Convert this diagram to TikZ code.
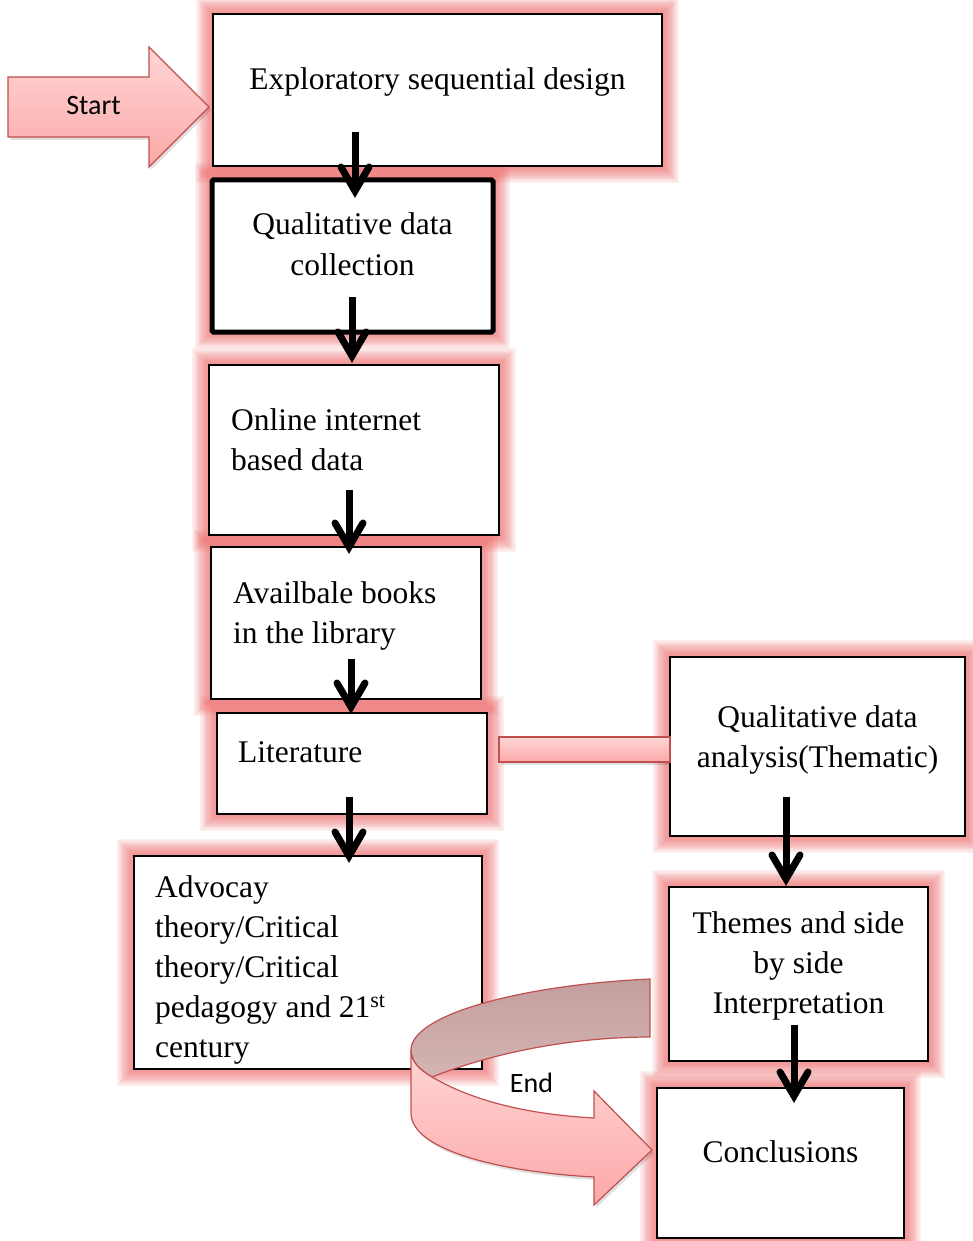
\documentclass[tikz,border=0pt]{standalone}
\usepackage{fontspec}
\setmainfont{Liberation Serif}
\newfontfamily\calibri{Carlito}
\usetikzlibrary{arrows.meta,calc}
\pgfdeclarelayer{glow}
\pgfsetlayers{glow,main}
\definecolor{glowc}{RGB}{236,105,105}
\definecolor{pinkT}{RGB}{255,214,214}
\definecolor{pinkB}{RGB}{252,168,168}
\definecolor{edgec}{RGB}{192,80,77}
\definecolor{backT}{RGB}{196,158,158}
\definecolor{backB}{RGB}{212,180,180}
\newcommand\CLines[1]{\vtop{\baselineskip=40pt\lineskiplimit=-20pt\halign{\hfil##\hfil\cr#1\crcr}}}
\newcommand\LLines[1]{\vtop{\baselineskip=40pt\lineskiplimit=-20pt\halign{##\hfil\cr#1\crcr}}}
\newcommand\glowbox[1]{\foreach \i in {1,...,14}{\draw[glowc, line width=2.4*\i pt, opacity=0.085] (#1.north west) rectangle (#1.south east);}}
\newcommand\flowar[2]{\draw[flowshaft] (#1) -- ($(#2)+(0,-6)$);
 \draw[flowshaft, line cap=round, line join=miter] ($(#2)+(-14,-30)$) -- ($(#2)+(0,-6)$) -- ($(#2)+(14,-30)$);}
\tikzset{
 box/.style={draw=black, line width=2.5pt, fill=white, rectangle, anchor=north west, inner sep=0pt, outer sep=0pt},
 thickbox/.style={box, line width=5pt, rounded corners=1.5pt},
 txt/.style={inner sep=0pt, font=\fontsize{31.5}{40}\selectfont},
 flowshaft/.style={line width=7pt, draw=black},
 pinkshape/.style={draw=edgec, line width=1.2pt, top color=pinkT, bottom color=pinkB},
 backshape/.style={draw=edgec, line width=1.2pt, top color=backT, bottom color=backB},
 sanslbl/.style={inner sep=0pt, font=\calibri\fontsize{28}{34}\selectfont},
 shadowfill/.style={fill=black, opacity=0.12},
}
\begin{document}
\begin{tikzpicture}[x=1pt,y=-1pt]
\useasboundingbox (0,0) rectangle (973,1241);
% boxes
\node[box, line width=2pt, minimum width=449pt, minimum height=152pt] (b1) at (213,14) {};
\node[thickbox, minimum width=281pt, minimum height=152pt] (b2) at (212,180) {};
\node[box, minimum width=290pt, minimum height=170pt] (b3) at (209,365) {};
\node[box, minimum width=270pt, minimum height=152pt] (b4) at (211,547) {};
\node[box, minimum width=270pt, minimum height=101pt] (b5) at (217,713) {};
\node[box, minimum width=348pt, minimum height=213pt] (b6) at (134,856) {};
\node[box, minimum width=295pt, minimum height=179pt] (b7) at (670,657) {};
\node[box, minimum width=259pt, minimum height=174pt] (b8) at (669,887) {};
\node[box, minimum width=247pt, minimum height=150pt] (b9) at (657,1088) {};
\begin{pgfonlayer}{glow}
\glowbox{b1}\glowbox{b2}\glowbox{b3}\glowbox{b4}\glowbox{b5}\glowbox{b6}\glowbox{b7}\glowbox{b8}\glowbox{b9}
\end{pgfonlayer}
% texts
\node[txt, anchor=base] (t1) at (437.5,90) {Exploratory sequential design};
\node[txt, anchor=base] (t2) at (352.5,235) {\CLines{Qualitative data\cr collection}};
\node[txt, anchor=base west] (t3) at (231,430) {\LLines{Online internet\cr based data}};
\node[txt, anchor=base west] (t4) at (233,603) {\LLines{Availbale books\cr in the library}};
\node[txt, anchor=base west] (t5) at (238,762) {Literature};
\node[txt, anchor=base west] (t6) at (155,897) {\LLines{Advocay\cr theory/Critical\cr theory/Critical\cr pedagogy and 21\textsuperscript{st}\cr century}};
\node[txt, anchor=base] (t7) at (817.5,727) {\CLines{Qualitative data\cr analysis(Thematic)}};
\node[txt, anchor=base] (t8) at (798.5,933) {\CLines{Themes and side\cr by side\cr Interpretation}};
\node[txt, anchor=base] (t9) at (780.5,1162) {Conclusions};
% arrows
\coordinate (a1s) at (355,132); \coordinate (a1e) at (355,197);
\coordinate (a2s) at (352,297); \coordinate (a2e) at (352,362);
\coordinate (a3s) at (349,490); \coordinate (a3e) at (349,553);
\coordinate (a4s) at (351,659); \coordinate (a4e) at (351,713);
\coordinate (a5s) at (349,797); \coordinate (a5e) at (349,862);
\coordinate (a6s) at (786,797); \coordinate (a6e) at (786,885);
\coordinate (a7s) at (794,1025); \coordinate (a7e) at (794,1102);
\flowar{a1s}{a1e}
\flowar{a2s}{a2e}
\flowar{a3s}{a3e}
\flowar{a4s}{a4e}
\flowar{a5s}{a5e}
\flowar{a6s}{a6e}
\flowar{a7s}{a7e}
% start arrow
\fill[shadowfill] (10,80) -- (151,80) -- (151,50) -- (211,110) -- (151,170) -- (151,140) -- (10,140) -- cycle;
\draw[pinkshape] (8,77) -- (149,77) -- (149,47) -- (209,107) -- (149,167) -- (149,137) -- (8,137) -- cycle;
\node[sanslbl, anchor=base] (start) at (93.5,115) {Start};
% link bar
\fill[shadowfill] (501,740) rectangle (670,765);
\draw[pinkshape] (499,737) rectangle (670,762);
% curved end arrow
\draw[backshape] (650,979) .. controls (520,985) and (411,1015) .. (411,1050) .. controls (411,1062) and (420,1070) .. (432,1077) .. controls (500,1050) and (580,1037) .. (650,1037) -- cycle;
\fill[shadowfill] (413,1053) .. controls (413,1065) and (422,1073) .. (434,1080) .. controls (482,1108) and (542,1118) .. (596,1121) -- (596,1094) -- (654,1153) -- (596,1208) -- (596,1180) .. controls (502,1175) and (413,1153) .. (413,1116) -- cycle;
\draw[pinkshape] (411,1050) .. controls (411,1062) and (420,1070) .. (432,1077) .. controls (480,1105) and (540,1115) .. (594,1118) -- (594,1091) -- (652,1150) -- (594,1205) -- (594,1177) .. controls (500,1172) and (411,1150) .. (411,1113) -- cycle;
\node[sanslbl, anchor=base] (endlbl) at (531.5,1092) {End};
\end{tikzpicture}
\end{document}
